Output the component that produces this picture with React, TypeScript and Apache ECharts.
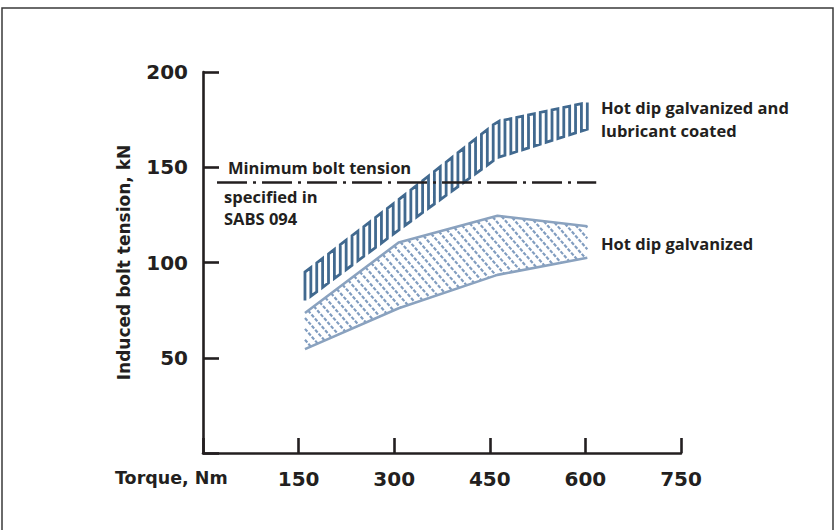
import React, { useEffect, useRef } from "react";
import * as echarts from "echarts";

// ---- data ----
const torque = [160, 307, 462, 603];
const lubricatedUpper = [95, 133, 174, 184];
const lubricatedLower = [80, 117, 155, 170];
const galvanizedUpper = [73.5, 110.5, 124.5, 119];
const galvanizedLower = [54.5, 76, 93.5, 102.5];
const minTension = 142;
const minTensionRange = [22, 617];
const xTickValues = [0, 150, 300, 450, 600, 750];
const yTickValues = [0, 50, 100, 150, 200];

const INK = "#231f20";
const DARK_BLUE = "#41698f";
const LIGHT_BLUE = "#8aa2bf";
const HATCH_BLUE = "#819dc0";
const NUM_FONT = "DejaVu Sans";
const TXT_FONT = "Open Sans";

type Pt = number[];

function interp(pts: Pt[], x: number): number {
  for (let i = 0; i < pts.length - 1; i++) {
    const a = pts[i], b = pts[i + 1];
    if (x >= a[0] - 0.001 && x <= b[0] + 0.001) {
      const t = (x - a[0]) / (b[0] - a[0] || 1);
      return a[1] + t * (b[1] - a[1]);
    }
  }
  return x < pts[0][0] ? pts[0][1] : pts[pts.length - 1][1];
}

function hatchSegments(poly: Pt[], step: number, slope: number): Pt[][] {
  // lines of constant c = x - y / slope (going down to the right)
  const f = (p: Pt) => p[0] - p[1] / slope;
  let cMin = Infinity, cMax = -Infinity;
  poly.forEach((p) => { cMin = Math.min(cMin, f(p)); cMax = Math.max(cMax, f(p)); });
  const segs: Pt[][] = [];
  for (let c = Math.ceil(cMin / step) * step; c <= cMax; c += step) {
    const hits: Pt[] = [];
    for (let i = 0; i < poly.length; i++) {
      const P = poly[i], Q = poly[(i + 1) % poly.length];
      const fp = f(P) - c, fq = f(Q) - c;
      if ((fp <= 0 && fq > 0) || (fp > 0 && fq <= 0)) {
        const t = fp / (fp - fq);
        hits.push([P[0] + t * (Q[0] - P[0]), P[1] + t * (Q[1] - P[1])]);
      }
    }
    hits.sort((a, b) => a[0] - b[0]);
    for (let k = 0; k + 1 < hits.length; k += 2) segs.push([hits[k], hits[k + 1]]);
  }
  return segs;
}

export default function App() {
  const ref = useRef<HTMLDivElement>(null);
  useEffect(() => {
    if (!ref.current) return;
    const chart = echarts.init(ref.current, null, { renderer: "svg" });

    const zip = (xs: number[], ys: number[]) => xs.map((x, i) => [x, ys[i]]);
    const txt = `bold 16.5px "${TXT_FONT}"`;

    const option: any = {
      animation: false,
      backgroundColor: "#ffffff",
      grid: { left: 203, right: 155, top: 72, bottom: 77, containLabel: false },
      xAxis: {
        type: "value",
        min: xTickValues[0],
        max: xTickValues[xTickValues.length - 1],
        interval: 150,
        splitLine: { show: false },
        axisLine: { lineStyle: { color: INK, width: 2.6 } },
        axisTick: { inside: true, length: 15, lineStyle: { color: INK, width: 2.6 } },
        axisLabel: {
          formatter: (v: number) => (v === 0 ? "" : String(v)),
          fontFamily: NUM_FONT, fontSize: 20, fontWeight: "bold", color: INK, margin: 16,
        },
      },
      yAxis: {
        type: "value",
        min: yTickValues[0],
        max: yTickValues[yTickValues.length - 1],
        interval: 50,
        splitLine: { show: false },
        axisLine: { lineStyle: { color: INK, width: 2.6 } },
        axisTick: { inside: true, length: 16, lineStyle: { color: INK, width: 2.6 } },
        axisLabel: {
          formatter: (v: number) => (v === 0 ? "" : String(v)),
          fontFamily: NUM_FONT, fontSize: 20, fontWeight: "bold", color: INK, margin: 15,
        },
        name: "Induced bolt tension, kN",
        nameLocation: "middle",
        nameGap: 71,
        nameRotate: 90,
        nameTextStyle: { fontFamily: NUM_FONT, fontSize: 17, fontWeight: "bold", color: INK },
      },
      graphic: [
        { type: "rect", shape: { x: 2, y: 8, width: 831, height: 600 }, style: { fill: "none", stroke: "#3a3a3a", lineWidth: 1.5 }, silent: true },
        { type: "text", x: 115, y: 478, style: { text: "Torque, Nm", font: `bold 17.5px "${NUM_FONT}"`, fill: INK, textVerticalAlign: "middle" } },
        { type: "text", x: 228, y: 167, style: { text: "Minimum bolt tension", font: txt, fill: INK, textVerticalAlign: "middle" } },
        { type: "text", x: 224, y: 196, style: { text: "specified in", font: txt, fill: INK, textVerticalAlign: "middle" } },
        { type: "text", x: 224, y: 218, style: { text: "SABS 094", font: txt, fill: INK, textVerticalAlign: "middle" } },
        { type: "text", x: 601, y: 107, style: { text: "Hot dip galvanized and", font: txt, fill: INK, textVerticalAlign: "middle" } },
        { type: "text", x: 601, y: 130, style: { text: "lubricant coated", font: txt, fill: INK, textVerticalAlign: "middle" } },
        { type: "text", x: 601, y: 243, style: { text: "Hot dip galvanized", font: txt, fill: INK, textVerticalAlign: "middle" } },
      ],
      series: [
        {
          type: "custom",
          name: "galvanized hatch",
          data: [[0]],
          z: 1,
          renderItem: (_p: any, api: any) => {
            const up = zip(torque, galvanizedUpper).map((d) => api.coord(d));
            const lo = zip(torque, galvanizedLower).map((d) => api.coord(d));
            const poly = up.concat(lo.slice().reverse());
            const segs = hatchSegments(poly, 9.5, 1.15);
            return {
              type: "group",
              children: segs.map((s) => ({
                type: "line",
                shape: { x1: s[0][0], y1: s[0][1], x2: s[1][0], y2: s[1][1] },
                style: { stroke: HATCH_BLUE, lineWidth: 2.2, lineDash: [3.6, 1.6] },
              })),
            };
          },
        },
        {
          type: "line",
          name: "galvanized upper",
          data: zip(torque, galvanizedUpper),
          symbol: "none",
          z: 2,
          lineStyle: { color: LIGHT_BLUE, width: 2.6 },
        },
        {
          type: "line",
          name: "galvanized lower",
          data: zip(torque, galvanizedLower),
          symbol: "none",
          z: 2,
          lineStyle: { color: LIGHT_BLUE, width: 2.6 },
        },
        {
          type: "custom",
          name: "lubricated band",
          data: [[0]],
          z: 3,
          renderItem: (_p: any, api: any) => {
            const up = zip(torque, lubricatedUpper).map((d) => api.coord(d));
            const lo = zip(torque, lubricatedLower).map((d) => api.coord(d));
            const x0 = up[0][0], x1 = up[up.length - 1][0];
            const n = Math.round((x1 - x0) / 5.9);
            const step = (x1 - x0) / n;
            const pts: Pt[] = [];
            for (let i = 0; i <= n; i++) {
              const x = x0 + i * step;
              const t = interp(up, x), b = interp(lo, x);
              if (i % 2 === 0) pts.push([x, b], [x, t]);
              else pts.push([x, t], [x, b]);
            }
            return {
              type: "polyline",
              shape: { points: pts },
              style: { stroke: DARK_BLUE, lineWidth: 2.8, fill: null, lineJoin: "miter" },
            };
          },
        },
        {
          type: "line",
          name: "minimum tension",
          data: minTensionRange.map((x) => [x, minTension]),
          symbol: "none",
          z: 5,
          lineStyle: { color: INK, width: 2.6, type: [30, 6, 3, 6] },
        },
      ],
    };
    chart.setOption(option);
    return () => chart.dispose();
  }, []);

  return <div ref={ref} style={{ position: "absolute", left: 0, top: 0, width: 836, height: 530 }} />;
}
